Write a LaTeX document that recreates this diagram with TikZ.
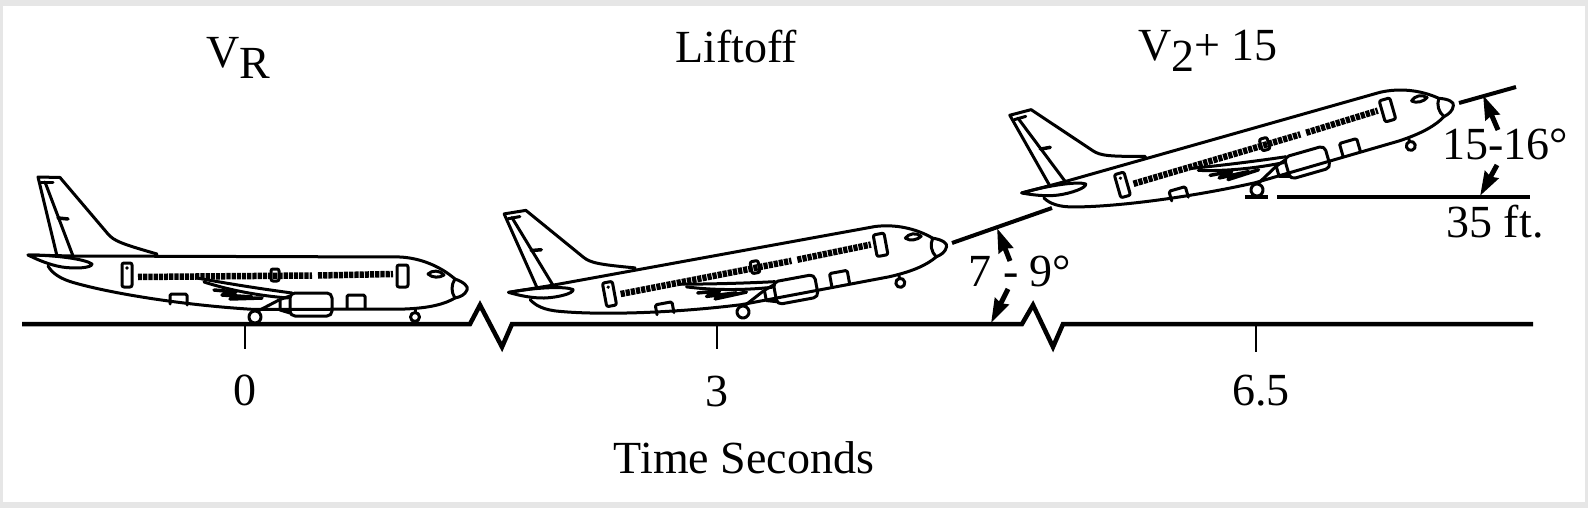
\documentclass[tikz,border=0pt]{standalone}
\usepackage{fontspec}
\setmainfont{Liberation Serif}
\usetikzlibrary{arrows.meta}
\definecolor{framegray}{RGB}{230,230,230}
\newcommand\myplane{%
  % fin
  \draw (73,256) -- (45,182);
  \draw (57,256) -- (38,177) -- (60,177.5) -- (108,234) .. controls (114,241) and (122,244) .. (157,254);
  \draw (41,182.5) -- (53,182.5);
  \draw[line width=3.5] (58,218) -- (68,219);
  % stabilizer
  \draw (28,255) .. controls (55,255) and (85,259) .. (92,264) .. controls (92,268) and (75,269) .. (62,267) .. controls (50,265) and (38,260) .. cycle;
  % fuselage
  \draw (28,255) -- (73,256) -- (400,257) .. controls (420,258) and (440,266) .. (455,279)
        .. controls (464,282) and (469,287) .. (467,290) .. controls (465,295) and (460,297) .. (455,298)
        .. controls (445,304) and (430,308) .. (405,309) -- (255,309.5)
        .. controls (180,305) and (110,293) .. (75,283) .. controls (60,279) and (52,273) .. (48,266);
  \draw (455,279) .. controls (451,285) and (451,292) .. (455,298);
  % cockpit
  \draw (428,274) .. controls (432,270) and (440,270) .. (444,275) .. controls (440,278) and (432,278) .. cycle;
  % doors
  \draw[rounded corners=2] (122,263) rectangle (132,287);
  \fill (127,268) circle (1.8);
  \draw[rounded corners=2] (397,265) rectangle (408,287);
  \draw[rounded corners=1.5] (170,304) -- (170,294) -- (187,294) -- (187,305);
  \draw[rounded corners=1.5] (347,308) -- (347,295) -- (365,295) -- (365,308.5);
  % windows
  \draw[line width=6.5, line cap=butt, dash pattern=on 4.2pt off 1pt] (138,277) -- (312,275.5);
  \draw[line width=6.5, line cap=butt, dash pattern=on 4.2pt off 1pt] (318,275.5) -- (393,274);
  \draw[line width=3, rounded corners=2] (271,269) rectangle (279,281);
  % wing
  \draw (197,278) .. controls (230,284) and (262,289) .. (292,293);
  \draw (204,282) .. controls (232,291) and (262,296) .. (288,298);
  \draw[line width=3.5] (214,290) -- (236,292) -- (222,295) -- (252,297) -- (230,299) -- (262,298);
  % engine
  \draw[rounded corners=5] (290,293) rectangle (332,316);
  \draw (290,296) -- (280,299.5) -- (280,310) -- (290,313);
  % gear
  \draw (258,311) -- (279,300);
  \draw (255,317) circle (6);
  \draw (415,312.5) -- (415,309);
  \draw (415,317) circle (4.5);
}
\begin{document}
\begin{tikzpicture}[x=1pt,y=-1pt,
  planeline/.style={line width=3, line join=round, line cap=round},
  groundline/.style={line width=4.5, line join=miter},
  tickline/.style={line width=2.4},
  angarrow/.style={line width=5pt, arrows={-Stealth[length=24pt,width=15pt,inset=2pt]}},
  lbl/.style={font=\fontsize{46}{50}\selectfont, inner sep=0pt, anchor=base}]
\useasboundingbox (0,0) rectangle (1588,508);
\fill[framegray] (0,0) rectangle (1588,508);
\fill[white] (3,6) rectangle (1585,502);

% ground
\coordinate (g0) at (22,324);
\coordinate (g1) at (1533,324);
\draw[groundline] (g0) -- (470,324) -- (480,305) -- (502,347) -- (512,324) -- (1022,324)
  -- (1033,305) -- (1053,347) -- (1063,324) -- (g1);
\coordinate (t0) at (245,324); \coordinate (t0b) at (245,349);
\coordinate (t1) at (717,324); \coordinate (t1b) at (717,349);
\coordinate (t2) at (1256,324); \coordinate (t2b) at (1256,352);
\draw[tickline] (t0) -- (t0b);
\draw[tickline] (t1) -- (t1b);
\draw[tickline] (t2) -- (t2b);

% planes
\begin{scope}[planeline]
  \myplane
\end{scope}
\begin{scope}[planeline, shift={(743,312)}, rotate=10.5, shift={(-255,-317)}]
  \myplane
\end{scope}
\begin{scope}[planeline, shift={(1257,190)}, rotate=16, shift={(-255,-317)}]
  \myplane
\end{scope}

% flight path and reference lines
\coordinate (f0) at (952,243); \coordinate (f1) at (1052,208);
\draw[line width=4] (f0) -- (f1);
\coordinate (n0) at (1459,103); \coordinate (n1) at (1516,87);
\draw[line width=4] (n0) -- (n1);
\coordinate (h0) at (1277,197); \coordinate (h1) at (1530,197);
\draw[line width=4.5] (h0) -- (h1);
\coordinate (w0) at (1245,197); \coordinate (w1) at (1268,197);
\draw[line width=4.5] (w0) -- (w1);

% angle arrows
\coordinate (a1s) at (1010,261); \coordinate (a1e) at (997,228);
\coordinate (a2s) at (1008,289); \coordinate (a2e) at (991,323);
\draw[angarrow] (a1s) -- (a1e);
\draw[angarrow] (a2s) -- (a2e);
\coordinate (b1s) at (1498,130); \coordinate (b1e) at (1483,95);
\coordinate (b2s) at (1497,165); \coordinate (b2e) at (1480,196);
\draw[angarrow] (b1s) -- (b1e);
\draw[angarrow] (b2s) -- (b2e);

% labels
\node[lbl] (vr) at (238,68) {V\raisebox{-11pt}{R}};
\node[lbl] (lift) at (736,63) {Liftoff};
\node[lbl] (v2) at (1208,61) {V\raisebox{-11pt}{2}+ 15};
\node[lbl] (s0) at (245,405) {0};
\node[lbl] (s3) at (717,406) {3};
\node[lbl] (s65) at (1261,405) {6.5};
\node[lbl] (ts) at (744,473) {Time Seconds};
\node[lbl] (ang1) at (1020,286) {7 - 9°};
\node[lbl] (ang2) at (1505,160) {15-16°};
\node[lbl] (ft) at (1495,237) {35 ft.};
\end{tikzpicture}
\end{document}
